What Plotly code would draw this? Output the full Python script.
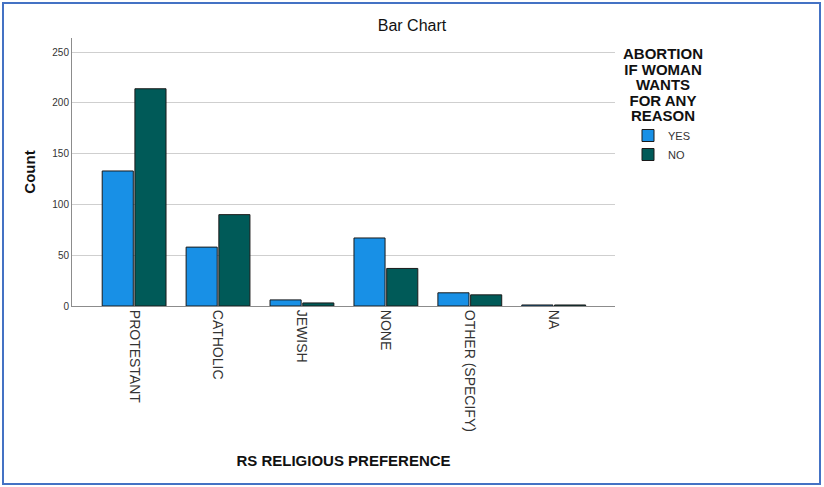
import plotly.graph_objects as go

categories = ["PROTESTANT", "CATHOLIC", "JEWISH", "NONE", "OTHER (SPECIFY)", "NA"]
yes_counts = [133, 58, 6, 67, 13, 1]
no_counts = [214, 90, 3, 37, 11, 1]
series_names = ["YES", "NO"]
y_ticks = [0, 50, 100, 150, 200, 250]
legend_title_lines = ["ABORTION", "IF WOMAN", "WANTS", "FOR ANY", "REASON"]

FONT = "Liberation Sans, Arial, sans-serif"

fig = go.Figure()
fig.add_trace(go.Bar(x=categories, y=yes_counts, name=series_names[0],
                     marker=dict(color="#1890E6", line=dict(color="#1a1a1a", width=1))))
fig.add_trace(go.Bar(x=categories, y=no_counts, name=series_names[1],
                     marker=dict(color="#005A58", line=dict(color="#1a1a1a", width=1))))

L, R, T, B = 72, 209, 38, 181
W, H = 824, 487
pw, ph = W - L - R, H - T - B

def px_x(p):
    return (p - L) / pw

def px_y(p):
    return (H - B - p) / ph

legend_title_text = "<br>".join(
    "<span style='font-size:15px'><b>" + line + "</b></span>" for line in legend_title_lines)

fig.update_layout(
    width=W, height=H,
    margin=dict(l=L, r=R, t=T, b=B, pad=0),
    paper_bgcolor="white", plot_bgcolor="white",
    barmode="group", bargap=0.22, bargroupgap=0.05,
    font=dict(family=FONT, color="#222222"),
    title=dict(text="Bar Chart", x=412 / W, xanchor="center", y=1 - 25 / H, yanchor="middle",
               font=dict(size=16, color="#111111")),
    legend=dict(
        x=px_x(628), xanchor="left", y=px_y(121), yanchor="top",
        font=dict(size=11, color="#333333"),
        itemwidth=30, tracegroupgap=0, bgcolor="rgba(0,0,0,0)",
    ),
    xaxis=dict(
        range=[-0.74, 5.73], tickangle=90, tickfont=dict(size=14, color="#333333"),
        showline=True, linecolor="#8c8c8c", linewidth=1, ticks="", showgrid=False,
        title=dict(text="<b>RS RELIGIOUS PREFERENCE</b>", font=dict(size=15, color="#111111"), standoff=24),
    ),
    yaxis=dict(
        range=[0, 264], tickvals=y_ticks, tickfont=dict(size=10, color="#333333"),
        showline=True, linecolor="#8c8c8c", linewidth=1, ticks="", ticklen=0,
        showgrid=True, gridcolor="#cfcfcf", gridwidth=1, zeroline=False,
        title=dict(text="<b>Count</b>", font=dict(size=15, color="#111111"), standoff=13),
    ),
    annotations=[dict(text=legend_title_text, xref="paper", yref="paper",
                      x=px_x(663), y=px_y(43), xanchor="center", yanchor="top", align="center",
                      showarrow=False, font=dict(size=12, color="#111111"))],
    shapes=[dict(type="rect", xref="paper", yref="paper",
                 x0=px_x(3), x1=px_x(820), y0=px_y(484), y1=px_y(3),
                 line=dict(color="#4472C4", width=2), fillcolor="rgba(0,0,0,0)", layer="below")],
)

fig.write_html("out.html", config={"displayModeBar": False},
               post_script="document.body.style.margin='0';document.body.style.overflow='hidden';")
